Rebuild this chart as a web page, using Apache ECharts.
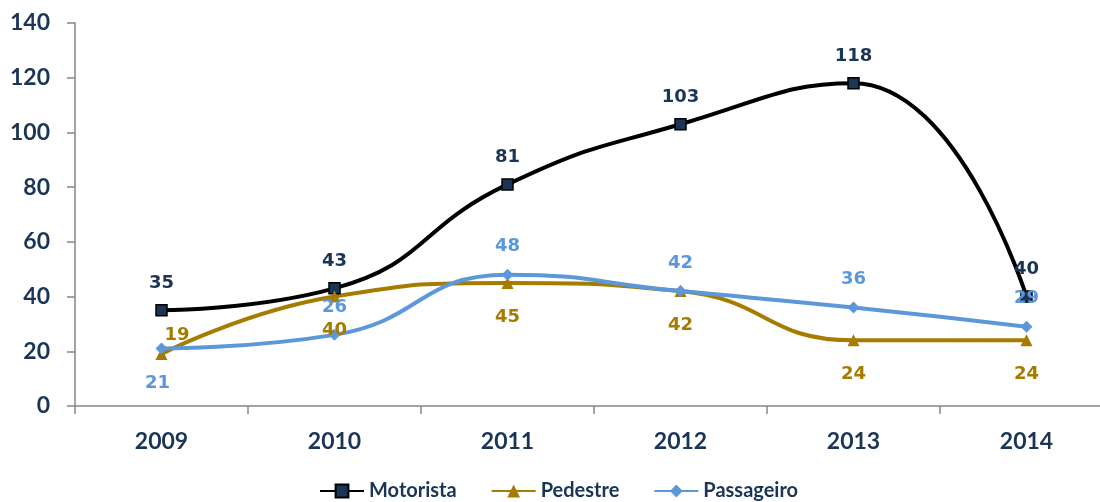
<!DOCTYPE html>
<html>
<head>
    <meta charset="utf-8">
    <script src="https://cdn.jsdelivr.net/npm/echarts@6/dist/echarts.min.js"></script>
</head>
<body style="margin:0;background:#fff">
    <div id="main" style="width:1100px;height:502px;"></div>
    <script type="text/javascript">
        var years = ['2009', '2010', '2011', '2012', '2013', '2014'];
        var motorista = [35, 43, 81, 103, 118, 40];
        var pedestre = [19, 40, 45, 42, 24, 24];
        var passageiro = [21, 26, 48, 42, 36, 29];

        var navy = '#1B3556';
        var gold = '#A57C00';
        var blue = '#5C97DA';

        // rótulo especial para alguns pontos
        function withLabels(values, special) {
            return values.map(function (v, i) {
                var item = { value: v };
                if (special && special[i]) {
                    item.label = special[i];
                }
                return item;
            });
        }

        var labelFont = {
            fontFamily: 'DejaVu Sans',
            fontWeight: 'bold',
            fontSize: 18
        };

        var myChart = echarts.init(document.getElementById('main'));
        var option = {
            animation: false,
            grid: {
                left: 75,
                top: 23,
                width: 1038,
                bottom: 96,
                containLabel: false,
                outerBoundsMode: 'none'
            },
            legend: {
                left: 319,
                top: 481,
                padding: 0,
                itemWidth: 44,
                itemHeight: 16,
                itemGap: 34,
                textStyle: {
                    fontFamily: 'Lato',
                    fontWeight: 'bold',
                    fontSize: 20,
                    color: navy
                },
                data: ['Motorista', 'Pedestre', 'Passageiro']
            },
            xAxis: {
                type: 'category',
                data: years,
                boundaryGap: true,
                axisLine: { lineStyle: { color: '#868686', width: 1.5 } },
                axisTick: { show: true, length: 8, lineStyle: { color: '#868686', width: 1.5 } },
                axisLabel: {
                    margin: 24,
                    fontFamily: 'Lato',
                    fontWeight: 'bold',
                    fontSize: 23,
                    color: navy
                },
                splitLine: { show: false }
            },
            yAxis: {
                type: 'value',
                min: 0,
                max: 140,
                interval: 20,
                axisLine: { show: true, lineStyle: { color: '#868686', width: 1.5 } },
                axisTick: { show: true, length: 8, lineStyle: { color: '#868686', width: 1.5 } },
                axisLabel: {
                    margin: 25,
                    fontFamily: 'Lato',
                    fontWeight: 'bold',
                    fontSize: 23,
                    color: navy
                },
                splitLine: { show: false }
            },
            series: [
                {
                    name: 'Motorista',
                    type: 'line',
                    smooth: 0.5,
                    data: withLabels(motorista),
                    symbol: 'rect',
                    symbolSize: 11,
                    lineStyle: { color: '#000000', width: 4 },
                    itemStyle: { color: navy, borderColor: '#000000', borderWidth: 1.5 },
                    label: Object.assign({
                        show: true,
                        position: 'top',
                        distance: 12,
                        color: navy
                    }, labelFont)
                },
                {
                    name: 'Pedestre',
                    type: 'line',
                    smooth: 0.5,
                    data: withLabels(pedestre, {
                        0: { position: 'right', distance: 0, offset: [-3, -19] }
                    }),
                    symbol: 'triangle',
                    symbolSize: 12,
                    lineStyle: { color: gold, width: 4 },
                    itemStyle: { color: gold },
                    label: Object.assign({
                        show: true,
                        position: 'bottom',
                        distance: 19,
                        color: gold
                    }, labelFont)
                },
                {
                    name: 'Passageiro',
                    type: 'line',
                    smooth: 0.5,
                    data: withLabels(passageiro, {
                        0: { position: 'bottom', distance: 20, offset: [-4, 0] }
                    }),
                    symbol: 'diamond',
                    symbolSize: 12,
                    lineStyle: { color: blue, width: 4 },
                    itemStyle: { color: blue },
                    label: Object.assign({
                        show: true,
                        position: 'top',
                        distance: 13,
                        color: blue
                    }, labelFont)
                }
            ]
        };
        myChart.setOption(option);
    </script>
</body>
</html>
